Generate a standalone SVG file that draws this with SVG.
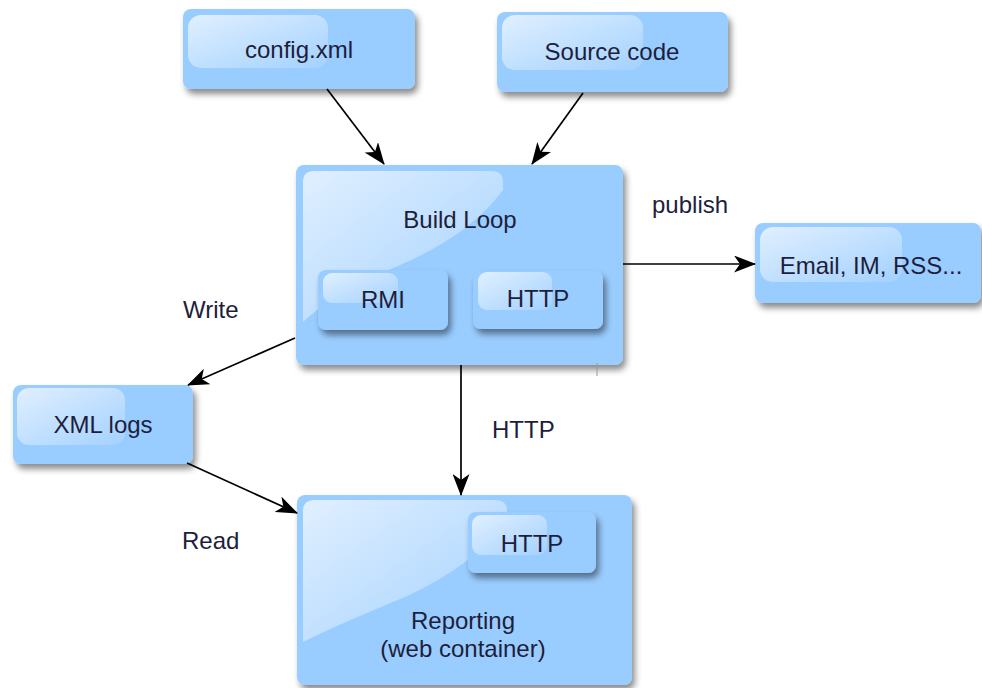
<svg xmlns="http://www.w3.org/2000/svg" width="982" height="688" viewBox="0 0 982 688">
<defs>
<filter id="sh" x="-10%" y="-10%" width="130%" height="140%">
<feDropShadow dx="3" dy="5" stdDeviation="3" flood-color="#000" flood-opacity="0.45"/>
</filter>
<linearGradient id="gl" x1="0" y1="0" x2="1" y2="1">
<stop offset="0" stop-color="#fff" stop-opacity="0.7"/>
<stop offset="1" stop-color="#fff" stop-opacity="0.1"/>
</linearGradient>
<marker id="ah" viewBox="0 0 22 17" refX="21" refY="8.5" markerWidth="22" markerHeight="17" orient="auto" markerUnits="userSpaceOnUse">
<path d="M0,0 L22,8.5 L0,17 L6,8.5 z" fill="#000"/>
</marker>
</defs>
<style>
.box{fill:#99ccff;filter:url(#sh)}
.gl{fill:url(#gl)}
text{font-family:"Liberation Sans",Arial,sans-serif;font-size:24px;fill:#1e1e3c;text-anchor:middle}
.lbl{text-anchor:start}
.c{stroke:#000;stroke-width:1.7;fill:none;marker-end:url(#ah)}
</style>
<rect width="982" height="688" fill="#fff"/>

<g id="config">
<rect class="box" x="183" y="9" width="232" height="80" rx="8"/>
<rect class="gl" x="188" y="15" width="140" height="53" rx="13"/>
<text x="299" y="58">config.xml</text>
</g>

<g id="source">
<rect class="box" x="497" y="12" width="231" height="80" rx="8"/>
<rect class="gl" x="502" y="15" width="141" height="55" rx="13"/>
<text x="612" y="60">Source code</text>
</g>

<g id="buildloop">
<rect class="box" x="296" y="165" width="327" height="200" rx="8"/>
<path class="gl" d="M314,171 L492,171 Q503,171 503,182 L503,190 Q470,235 400,265 Q330,295 303,322 L303,182 Q303,171 314,171 z"/>
<text x="460" y="228">Build Loop</text>
<g id="rmi">
<rect class="box" x="318" y="270" width="130" height="60" rx="8"/>
<rect class="gl" x="323" y="273" width="75" height="30" rx="9"/>
<text x="383" y="308">RMI</text>
</g>
<g id="http1">
<rect class="box" x="473" y="271" width="130" height="58" rx="8"/>
<rect class="gl" x="478" y="272" width="74" height="38" rx="9"/>
<text x="538" y="307">HTTP</text>
</g>
</g>

<g id="email">
<rect class="box" x="755" y="223" width="226" height="80" rx="8"/>
<rect class="gl" x="760" y="227" width="142" height="55" rx="13"/>
<text x="871" y="274">Email, IM, RSS...</text>
</g>

<g id="xmllogs">
<rect class="box" x="13" y="385" width="180" height="79" rx="8"/>
<rect class="gl" x="17" y="388" width="108" height="57" rx="12"/>
<text x="103" y="433">XML logs</text>
</g>

<g id="reporting">
<rect class="box" x="297" y="495" width="335" height="190" rx="8"/>
<path class="gl" d="M314,500 L496,500 Q507,500 507,511 L507,520 Q475,565 405,597 Q330,628 303,642 L303,511 Q303,500 314,500 z"/>
<text x="463" y="629">Reporting</text>
<text x="463" y="657">(web container)</text>
<g id="http2">
<rect class="box" x="468" y="512" width="128" height="61" rx="8"/>
<rect class="gl" x="472" y="515" width="75" height="40" rx="9"/>
<text x="532" y="552">HTTP</text>
</g>
</g>

<g id="connectors">
<line class="c" x1="327" y1="89" x2="384" y2="164"/>
<line class="c" x1="583" y1="93" x2="532" y2="164"/>
<line class="c" x1="623" y1="264" x2="755" y2="264"/>
<line class="c" x1="295" y1="338" x2="188" y2="385"/>
<line class="c" x1="461" y1="365" x2="461" y2="495"/>
<line class="c" x1="187" y1="463" x2="297" y2="513"/>
<line x1="597" y1="363" x2="597" y2="376" stroke="#999" stroke-width="1"/>
<text class="lbl" x="652" y="213">publish</text>
<text class="lbl" x="183" y="318">Write</text>
<text class="lbl" x="492" y="438">HTTP</text>
<text class="lbl" x="182" y="549">Read</text>
</g>
</svg>
